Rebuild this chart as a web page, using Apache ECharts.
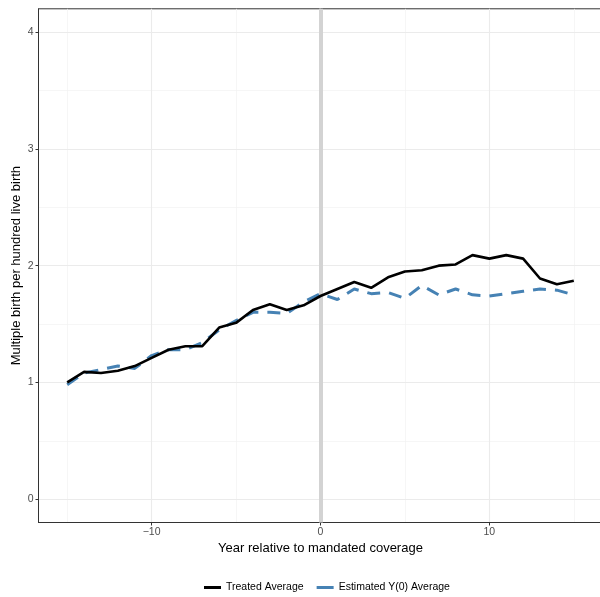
<!DOCTYPE html>
<html>
<head>
<meta charset="utf-8">
<script src="https://cdn.jsdelivr.net/npm/echarts@6/dist/echarts.min.js"></script>
<style>
  html, body { margin: 0; padding: 0; background: #fff; }
  #chart { width: 600px; height: 597px; }
</style>
</head>
<body>
<div id="chart"></div>
<script>
// Event-time axis (years relative to the mandate)
const years = [-15,-14,-13,-12,-11,-10,-9,-8,-7,-6,-5,-4,-3,-2,-1,0,1,2,3,4,5,6,7,8,9,10,11,12,13,14,15];

// Observed average for treated states
const treatedAvg = [1.00,1.09,1.08,1.10,1.14,1.21,1.28,1.31,1.31,1.47,1.51,1.62,1.67,1.62,1.66,1.74,
                    1.80,1.86,1.81,1.90,1.95,1.96,2.00,2.01,2.09,2.06,2.09,2.06,1.89,1.84,1.87];

// Estimated counterfactual Y(0) average
const estimatedY0 = [0.98,1.08,1.11,1.14,1.12,1.23,1.28,1.28,1.34,1.45,1.53,1.60,1.60,1.59,1.69,1.76,
                     1.71,1.80,1.76,1.77,1.72,1.83,1.75,1.80,1.75,1.74,1.76,1.78,1.80,1.79,1.75];

const xMajor = [-10, 0, 10];
const xMinor = [-15, -5, 5, 15];
const yMajor = [0, 1, 2, 3, 4];
const yMinor = [0.5, 1.5, 2.5, 3.5];
const eventYear = 0;

const seriesNames = ['Treated Average', 'Estimated Y(0) Average'];
const pairs = (ys) => years.map((x, i) => [x, ys[i]]);

const font = 'Liberation Sans, Arial, Helvetica, sans-serif';
const chart = echarts.init(document.getElementById('chart'), null, { renderer: 'canvas' });

const fmt = (v) => (v < 0 ? '\u2212' + Math.abs(v) : String(v));

chart.setOption({
  animation: false,
  backgroundColor: '#ffffff',
  grid: {
    left: 38.5, width: 564, top: 8.8, height: 513.7,
    containLabel: false, outerBoundsMode: 'none',
    show: true, borderColor: '#333333', borderWidth: 1, backgroundColor: 'transparent'
  },
  legend: {
    data: seriesNames,
    left: 199, top: 577,
    itemWidth: 17, itemHeight: 3, itemGap: 13,
    icon: 'rect',
    textStyle: { fontFamily: font, fontSize: 10.5, color: '#000' }
  },
  xAxis: [
    {
      type: 'value', min: -16.7, max: 16.7,
      name: 'Year relative to mandated coverage',
      nameLocation: 'middle', nameGap: 19, nameMoveOverlap: false,
      nameTextStyle: { fontFamily: font, fontSize: 13, color: '#000' },
      axisLine: { show: true, onZero: false, lineStyle: { color: '#333', width: 1 } },
      axisTick: { show: true, length: 3, customValues: xMajor, lineStyle: { color: '#333' } },
      axisLabel: { customValues: xMajor, formatter: fmt, margin: 4, fontFamily: font, fontSize: 10.5, color: '#4d4d4d' },
      splitLine: { show: true, lineStyle: { color: '#ebebeb', width: 1.1 } },
      z: 1
    },
    {
      type: 'value', min: -16.7, max: 16.7, position: 'bottom',
      axisLine: { show: false },
      axisTick: { show: false, customValues: xMinor },
      axisLabel: { show: false, customValues: xMinor },
      splitLine: { show: true, lineStyle: { color: '#f2f2f2', width: 0.7 } },
      z: 0
    }
  ],
  yAxis: [
    {
      type: 'value', min: -0.2, max: 4.2,
      name: 'Multiple birth per hundred live birth',
      nameLocation: 'middle', nameGap: 16, nameMoveOverlap: false,
      nameTextStyle: { fontFamily: font, fontSize: 13, color: '#000' },
      axisLine: { show: true, onZero: false, lineStyle: { color: '#333', width: 1 } },
      axisTick: { show: true, length: 3, customValues: yMajor, lineStyle: { color: '#333' } },
      axisLabel: { customValues: yMajor, margin: 5, fontFamily: font, fontSize: 10.5, color: '#4d4d4d' },
      splitLine: { show: true, lineStyle: { color: '#ebebeb', width: 1.1 } },
      z: 1
    },
    {
      type: 'value', min: -0.2, max: 4.2, position: 'left',
      axisLine: { show: false },
      axisTick: { show: false, customValues: yMinor },
      axisLabel: { show: false, customValues: yMinor },
      splitLine: { show: true, lineStyle: { color: '#f2f2f2', width: 0.7 } },
      z: 0
    }
  ],
  series: [
    {
      name: seriesNames[1],
      type: 'line',
      data: pairs(estimatedY0),
      showSymbol: false,
      color: '#4682b4',
      lineStyle: { color: '#4682b4', width: 3, type: [13, 9] },
      z: 3,
      markLine: {
        silent: true, symbol: 'none', animation: false,
        label: { show: false },
        lineStyle: { color: '#d3d3d3', width: 4, type: 'solid' },
        data: [{ xAxis: eventYear }],
        z: 2
      }
    },
    {
      name: seriesNames[0],
      type: 'line',
      data: pairs(treatedAvg),
      showSymbol: false,
      color: '#000000',
      lineStyle: { color: '#000000', width: 2.6 },
      z: 4
    }
  ]
});
</script>
</body>
</html>
